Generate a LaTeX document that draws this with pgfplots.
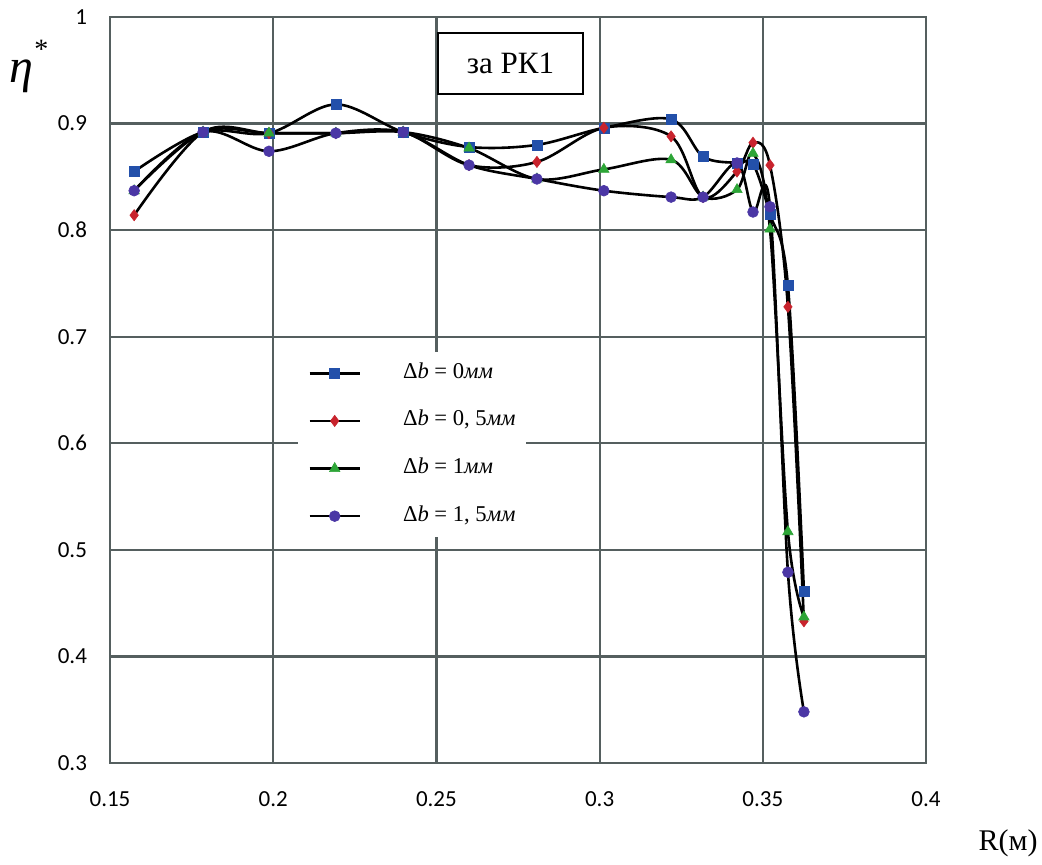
\documentclass[border=0pt]{standalone}
\usepackage{pgfplots}
\pgfplotsset{compat=1.18}
\usepackage{fontspec}
\setmainfont{Liberation Serif}
\newfontfamily\tickfont{Carlito}
\definecolor{gridc}{RGB}{85,95,95}
\definecolor{cblue}{RGB}{35,80,170}
\definecolor{cred}{RGB}{200,35,45}
\definecolor{cgreen}{RGB}{45,165,55}
\definecolor{cpurple}{RGB}{75,55,165}
\begin{document}
\begin{tikzpicture}
\begin{axis}[
  scale only axis, width=408pt, height=373pt,
  xmin=0.15, xmax=0.4, ymin=0.3, ymax=1,
  xtick={0.15,0.2,0.25,0.3,0.35,0.4},
  ytick={0.3,0.4,0.5,0.6,0.7,0.8,0.9,1},
  /pgf/number format/.cd, fixed, precision=2, assume math mode=true,
  /pgfplots/.cd,
  tick label style={font=\fontsize{11.5}{12}\tickfont},
  xticklabel style={yshift=-11pt},
  yticklabel style={xshift=-8pt},
  major tick length=0pt,
  grid=major,
  major grid style={gridc, line width=1.1pt},
  axis line style={gridc, line width=1.1pt},
  clip=false,
  every axis plot/.append style={black, line width=1.3pt, smooth, tension=0.55},
  legend image code/.code={
    \draw[#1, mark repeat=2, mark phase=2] plot coordinates {(0pt,0pt) (12.5pt,0pt) (25pt,0pt)};
  },
  legend style={at={(0.2304,0.551)}, anchor=north west, draw=none, fill=white,
    inner xsep=5pt, inner ysep=5pt, row sep=12.8pt, column sep=21pt,
    nodes={inner sep=0pt, text height=8pt, text depth=3pt},
    font=\fontsize{11.3}{12}\selectfont},
  legend cell align=left,
]
\addplot[mark=square*, mark size=2.5pt, mark options={draw=cblue, fill=cblue, line width=0.3pt}] coordinates {
(0.1574,0.855) (0.1785,0.892) (0.1987,0.891) (0.2192,0.918) (0.2398,0.892)
(0.2600,0.878) (0.2808,0.880) (0.3013,0.896) (0.3219,0.904) (0.3317,0.869)
(0.3421,0.863) (0.3470,0.862) (0.3522,0.815) (0.3577,0.748) (0.3626,0.461)};
\addlegendentry{Δ\textit{b} = 0\textit{мм}}
\addplot[mark=diamond*, mark size=2.8pt, mark options={draw=cred, fill=cred, line width=0.3pt}] coordinates {
(0.1574,0.814) (0.1785,0.892) (0.1987,0.891) (0.2192,0.891) (0.2398,0.892)
(0.2600,0.861) (0.2808,0.864) (0.3013,0.896) (0.3219,0.888) (0.3317,0.831)
(0.3421,0.855) (0.3470,0.882) (0.3522,0.861) (0.3577,0.728) (0.3626,0.433)};
\addlegendentry{Δ\textit{b} = 0, 5\textit{мм}}
\addplot[mark=triangle*, mark size=3pt, mark options={draw=cgreen, fill=cgreen, line width=0.3pt}] coordinates {
(0.1574,0.837) (0.1785,0.892) (0.1987,0.891) (0.2192,0.891) (0.2398,0.892)
(0.2600,0.877) (0.2808,0.848) (0.3013,0.857) (0.3219,0.866) (0.3317,0.831)
(0.3421,0.838) (0.3470,0.872) (0.3522,0.801) (0.3577,0.517) (0.3626,0.437)};
\addlegendentry{Δ\textit{b} = 1\textit{мм}}
\addplot[mark=*, mark size=2.7pt, mark options={draw=cpurple, fill=cpurple, line width=0.3pt}] coordinates {
(0.1574,0.837) (0.1785,0.892) (0.1987,0.874) (0.2192,0.891) (0.2398,0.892)
(0.2600,0.861) (0.2808,0.848) (0.3013,0.837) (0.3219,0.831) (0.3317,0.831)
(0.3421,0.863) (0.3470,0.817) (0.3522,0.822) (0.3577,0.479) (0.3626,0.348)};
\addlegendentry{Δ\textit{b} = 1, 5\textit{мм}}
\node[draw=black, line width=1pt, fill=white, minimum width=72.5pt, minimum height=30.5pt, font=\fontsize{15.5}{16}\selectfont] at (axis cs:0.2727,0.9564) {за РК1};
\node[anchor=base, font=\fontsize{24}{24}\selectfont, inner sep=0pt] at (rel axis cs:-0.108,0.912) {\textit{η}};
\node[font=\fontsize{14}{14}\selectfont, inner sep=0pt] at (rel axis cs:-0.084,0.956) {*};
\node[font=\fontsize{15}{16}\selectfont, inner sep=0pt] at (rel axis cs:1.1005,-0.107) {R(м)};
\end{axis}
\pgfresetboundingbox
\path ([xshift=-55pt,yshift=-51pt]current axis.south west) rectangle ([xshift=58pt,yshift=8.5pt]current axis.north east);
\end{tikzpicture}
\end{document}
